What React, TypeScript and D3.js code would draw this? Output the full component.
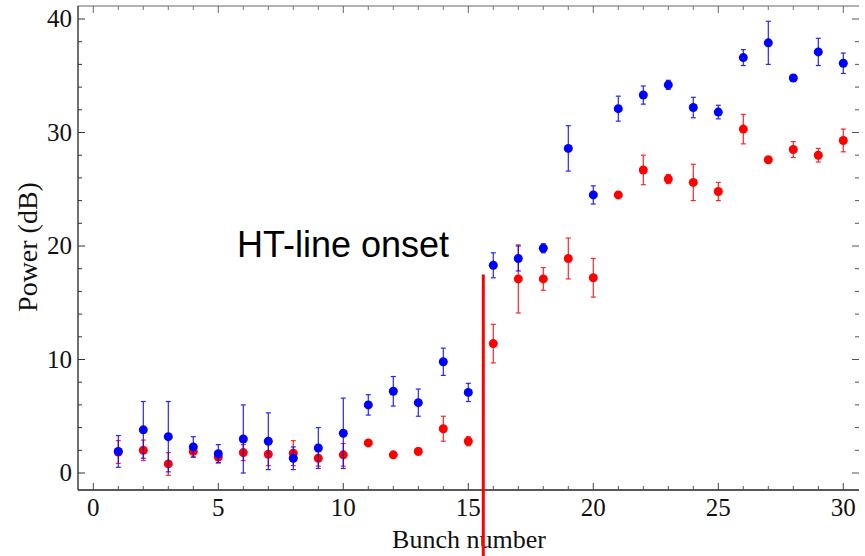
import React from "react";
import * as d3 from "d3";

const bunches = d3.range(1, 31);
const blueValues = [1.9, 3.8, 3.2, 2.3, 1.7, 3.0, 2.8, 1.3, 2.2, 3.5, 6.0, 7.2, 6.2, 9.8, 7.1, 18.3, 18.9, 19.8, 28.6, 24.5, 32.1, 33.3, 34.2, 32.2, 31.8, 36.6, 37.9, 34.8, 37.1, 36.1];
const blueErrors = [1.4, 2.5, 3.1, 0.9, 0.8, 3.0, 2.5, 1.0, 1.8, 3.1, 0.9, 1.3, 1.2, 1.2, 0.8, 1.1, 1.1, 0.4, 2.0, 0.8, 1.1, 0.8, 0.4, 0.9, 0.6, 0.7, 1.9, 0.3, 1.2, 0.9];
const redValues = [1.85, 2.0, 0.8, 1.9, 1.4, 1.8, 1.65, 1.75, 1.3, 1.6, 2.65, 1.6, 1.9, 3.9, 2.8, 11.4, 17.1, 17.1, 18.9, 17.2, 24.5, 26.7, 25.9, 25.6, 24.8, 30.3, 27.6, 28.5, 28.0, 29.3];
const redErrors = [1.0, 0.9, 1.0, 0.5, 0.5, 0.7, 1.0, 1.1, 0.7, 1.0, 0.0, 0.2, 0.3, 1.1, 0.4, 1.7, 3.0, 1.0, 1.8, 1.7, 0.0, 1.3, 0.4, 1.6, 0.8, 1.3, 0.0, 0.7, 0.6, 1.0];
const xMajorTicks = [0, 5, 10, 15, 20, 25, 30];
const yMajorTicks = [0, 10, 20, 30, 40];
const onsetX = 15.6;
const onsetTop = 17.5;
const annotation = "HT-line onset";
const xLabel = "Bunch number";
const yLabel = "Power (dB)";

const W = 865;
const H = 556;
const left = 78;
const right = 859;
const top = 6;
const bottom = 490;

export default function App() {
  const x = d3.scaleLinear().domain([0, 30]).range([93.3, 843.3]);
  const y = d3.scaleLinear().domain([0, 40]).range([473, 19]);
  const xMinor = d3.range(0, 31, 1).filter((v) => v % 5 !== 0);
  const yMinor = d3.range(0, 41, 2).filter((v) => v % 10 !== 0);
  const serif = "'Liberation Serif', 'Times New Roman', serif";

  const series = [
    { values: redValues, errors: redErrors, color: "#ff0000" },
    { values: blueValues, errors: blueErrors, color: "#0000ff" },
  ];

  return (
    <svg width={W} height={H} style={{ position: "absolute", left: 0, top: 0, background: "#fff" }}>
      <line x1={left} x2={right} y1={top} y2={top} stroke="#999" strokeWidth={1.3} />
      <line x1={left} x2={left} y1={top} y2={bottom} stroke="#222" strokeWidth={1.3} />
      <line x1={left} x2={right} y1={bottom} y2={bottom} stroke="#222" strokeWidth={1.3} />

      {xMajorTicks.map((t) => (
        <g key={"xm" + t}>
          <line x1={x(t)} x2={x(t)} y1={bottom} y2={bottom - 7} stroke="#444" strokeWidth={1} />
          <line x1={x(t)} x2={x(t)} y1={top} y2={top + 7} stroke="#666" strokeWidth={1} />
          <text x={x(t)} y={516} textAnchor="middle" fontFamily={serif} fontSize={25} fill="#111">{t}</text>
        </g>
      ))}
      {xMinor.map((t) => (
        <g key={"xn" + t}>
          <line x1={x(t)} x2={x(t)} y1={bottom} y2={bottom - 4} stroke="#555" strokeWidth={1} />
          <line x1={x(t)} x2={x(t)} y1={top} y2={top + 4} stroke="#777" strokeWidth={1} />
        </g>
      ))}

      {yMajorTicks.map((t) => (
        <g key={"ym" + t}>
          <line x1={left} x2={left + 7} y1={y(t)} y2={y(t)} stroke="#333" strokeWidth={1} />
          <line x1={right} x2={right - 7} y1={y(t)} y2={y(t)} stroke="#555" strokeWidth={1} />
          <text x={72} y={y(t) + 8} textAnchor="end" fontFamily={serif} fontSize={25} fill="#111">{t}</text>
        </g>
      ))}
      {yMinor.map((t) => (
        <g key={"yn" + t}>
          <line x1={left} x2={left + 4} y1={y(t)} y2={y(t)} stroke="#333" strokeWidth={1} />
          <line x1={right} x2={right - 4} y1={y(t)} y2={y(t)} stroke="#555" strokeWidth={1} />
        </g>
      ))}

      <text x={469} y={548} textAnchor="middle" fontFamily={serif} fontSize={26} fill="#111">{xLabel}</text>
      <text transform={`translate(37, 247) rotate(-90)`} textAnchor="middle" fontFamily={serif} fontSize={28} fill="#111">{yLabel}</text>

      {series.map((s, si) => (
        <g key={"s" + si}>
          {bunches.map((b, i) => {
            const v = s.values[i];
            const e = s.errors[i];
            const cx = x(b);
            return (
              <g key={i}>
                {e > 0 && (
                  <g stroke={s.color} strokeWidth={1.2} opacity={0.85}>
                    <line x1={cx} x2={cx} y1={y(v - e)} y2={y(v + e)} />
                    <line x1={cx - 2.5} x2={cx + 2.5} y1={y(v - e)} y2={y(v - e)} />
                    <line x1={cx - 2.5} x2={cx + 2.5} y1={y(v + e)} y2={y(v + e)} />
                  </g>
                )}
                <circle cx={cx} cy={y(v)} r={4.5} fill={s.color} />
              </g>
            );
          })}
        </g>
      ))}

      <line x1={x(onsetX)} x2={x(onsetX)} y1={y(onsetTop)} y2={H} stroke="#ff0000" strokeWidth={3} />
      <text x={237} y={257} fontFamily="'Liberation Sans', Arial, sans-serif" fontSize={36} fill="#000">{annotation}</text>
    </svg>
  );
}
